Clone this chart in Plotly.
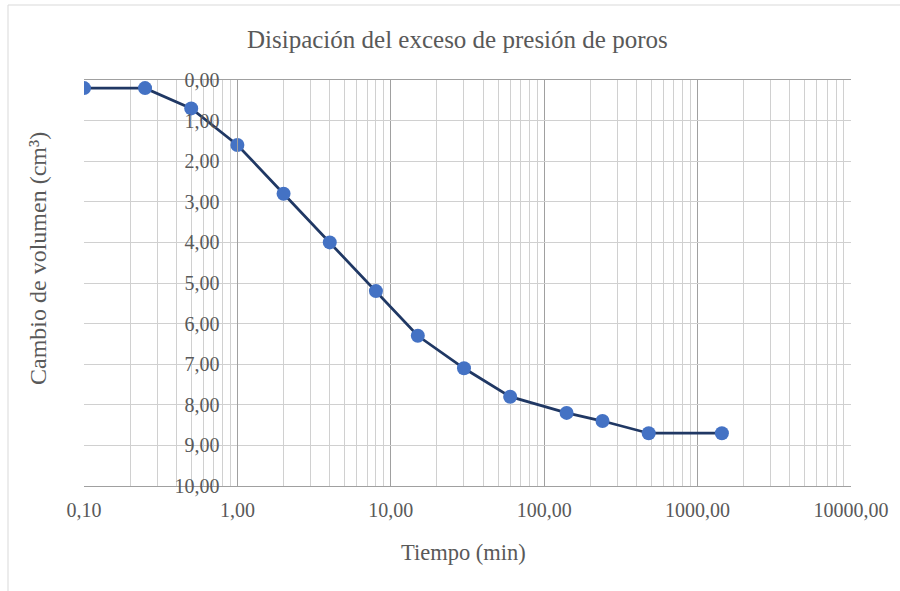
import plotly.graph_objects as go

# Consolidation test readings: elapsed time (min) vs. volume change (cm³)
tiempo_min = [0.1, 0.25, 0.5, 1, 2, 4, 8, 15, 30, 60, 140, 240, 480, 1440]
cambio_volumen = [0.2, 0.2, 0.7, 1.6, 2.8, 4.0, 5.2, 6.3, 7.1, 7.8, 8.2, 8.4, 8.7, 8.7]

x_ticks = [0.1, 1, 10, 100, 1000, 10000]
y_ticks = list(range(0, 11))
minor_x = [m * 10 ** e for e in range(-1, 4) for m in range(2, 10)]

W, H = 900, 591
ML, MR, MT, MB = 84, 49, 80, 105
PW, PH = W - ML - MR, H - MT - MB

font_family = "Liberation Serif"
text_color = "#595959"
grid_light = "#d0d0d0"
grid_dark = "#a0a0a0"

fig = go.Figure()
fig.add_trace(go.Scatter(
    x=tiempo_min, y=cambio_volumen, mode="lines+markers",
    line=dict(color="#203864", width=2.75),
    marker=dict(color="#4472C4", size=14),
    showlegend=False,
))


def px_x(p):
    return (p - ML) / PW


def px_y(p):
    return 1 - (p - MT) / PH


def label(text, x, y, size, angle=0):
    return dict(text=text, textangle=angle,
                xref="paper", yref="paper", x=px_x(x), y=px_y(y),
                xanchor="center", yanchor="middle", showarrow=False,
                font=dict(size=size, color=text_color, family=font_family))


fig.update_layout(
    width=W, height=H,
    margin=dict(l=ML, r=MR, t=MT, b=MB),
    paper_bgcolor="white", plot_bgcolor="white",
    separators=",.",
    font=dict(family=font_family, color=text_color, size=20),
    xaxis=dict(
        type="log", range=[-1, 4], domain=[0, 1],
        tickmode="array", tickvals=x_ticks, tickformat=".2f",
        showgrid=True, gridcolor=grid_dark, gridwidth=1,
        minor=dict(tickmode="array", tickvals=minor_x, showgrid=True,
                   gridcolor=grid_light, gridwidth=1),
        showline=True, linecolor=grid_dark, mirror=True,
        zeroline=False, ticks="", ticklabelstandoff=6,
        tickfont=dict(size=20, family=font_family),
    ),
    yaxis=dict(
        range=[10, 0], tickmode="array", tickvals=y_ticks, tickformat=".2f",
        anchor="free", position=0.2,
        showgrid=True, gridcolor=grid_light, gridwidth=1,
        showline=True, linecolor=grid_dark,
        zeroline=False, ticks="", ticklabelstandoff=14,
        tickfont=dict(size=20, family=font_family),
    ),
    annotations=[
        label("Disipación del exceso de presión de poros", 457, 40, 25),
        label("Cambio de volumen (cm³)", 38, 259, 24, angle=-90),
        label("Tiempo (min)", 463, 552, 22.5),
    ],
    shapes=[
        dict(type="line", xref="paper", yref="paper",
             x0=px_x(8), x1=px_x(8), y0=px_y(5), y1=px_y(H + 5),
             line=dict(color="#d9d9d9", width=1)),
        dict(type="line", xref="paper", yref="paper",
             x0=px_x(8), x1=px_x(W + 5), y0=px_y(5), y1=px_y(5),
             line=dict(color="#d9d9d9", width=1)),
    ],
)

fig.write_html("out.html")
